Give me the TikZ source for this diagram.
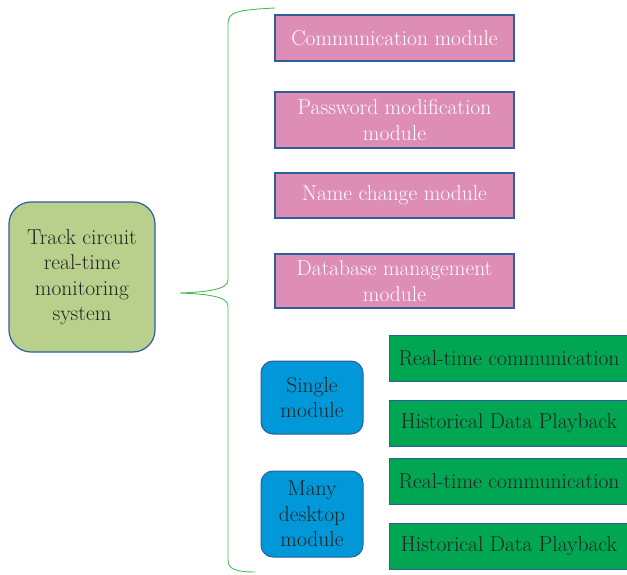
\documentclass[tikz,border=0pt]{standalone}
\usepackage{tikz}
\usetikzlibrary{calc}

\definecolor{rootfill}{RGB}{185,208,140}
\definecolor{pinkfill}{RGB}{222,141,180}
\definecolor{bluefill}{RGB}{0,152,216}
\definecolor{greenfill}{RGB}{0,166,81}
\definecolor{edgeblue}{RGB}{47,94,158}
\definecolor{bracegreen}{RGB}{70,190,80}
\definecolor{textdark}{RGB}{35,35,35}

\begin{document}
\begin{tikzpicture}[x=1pt,y=-1pt,
    every node/.style={font=\fontsize{21.5}{25.5}\selectfont, align=center, inner sep=0},
    rootbox/.style={draw=edgeblue, line width=1.2pt, fill=rootfill, rounded corners=22pt, text=textdark, minimum width=146, minimum height=150},
    pinkbox/.style={draw=edgeblue, line width=1.2pt, fill=pinkfill, text=white, minimum width=239},
    bluebox/.style={draw=edgeblue, line width=1pt, fill=bluefill, rounded corners=12pt, text=textdark, minimum width=102},
    greenbox/.style={draw=edgeblue, line width=1pt, fill=greenfill, text=textdark, minimum width=240, minimum height=46}]

%the frame
    \clip (0,0) rectangle (627,575);

%the root
    \node[rootbox] (root) at (82,277) {Track circuit\\real-time\\monitoring\\system};

%the brace
    \coordinate (tip) at (180,293);
    \coordinate (btop) at (275,8);
    \coordinate (bbot) at (255,572);
    \draw[bracegreen, line width=0.9pt] (btop) .. controls (236,10) and (228,12) .. (228,24) -- (228,280)
        .. controls (228,290) and (205,292) .. (tip)
        .. controls (205,294) and (228,296) .. (228,306) -- (228,560)
        .. controls (228,569) and (236,572) .. (bbot);

%the upper modules
    \node[pinkbox, minimum height=46] (comm) at (394.5,38) {Communication module};
    \node[pinkbox, minimum height=56] (pass) at (394.5,120) {Password modification\\module};
    \node[pinkbox, minimum height=45] (name) at (394.5,195.5) {Name change module};
    \node[pinkbox, minimum height=54] (data) at (394.5,281) {Database management\\module};

%the lower modules
    \node[bluebox, minimum height=73] (single) at (312,397.5) {Single\\module};
    \node[bluebox, minimum height=86] (many) at (312,514) {Many\\desktop\\module};

    \node[greenbox] (srt) at (509,358) {Real-time communication};
    \node[greenbox] (shd) at (509,423) {Historical Data Playback};
    \node[greenbox] (mrt) at (509,481) {Real-time communication};
    \node[greenbox] (mhd) at (509,546) {Historical Data Playback};
\end{tikzpicture}
\end{document}
